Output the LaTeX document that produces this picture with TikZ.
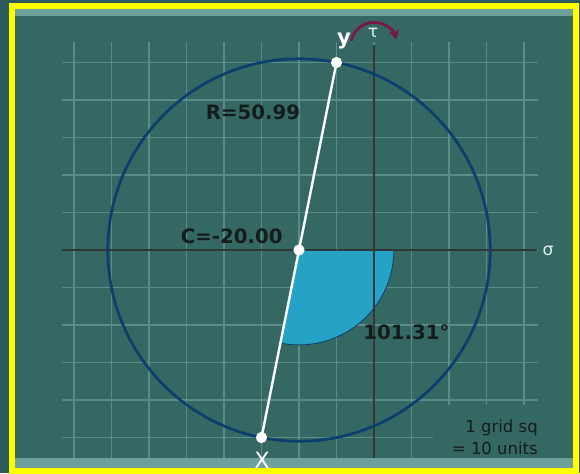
\documentclass[tikz,border=0pt]{standalone}
\usepackage{fontspec}
\setmainfont{DejaVu Sans}
\setsansfont{DejaVu Sans}
\usepackage{tikz}
\usetikzlibrary{arrows.meta,positioning,calc}
\definecolor{outerc}{RGB}{44,92,90}
\definecolor{board}{RGB}{54,104,99}
\definecolor{gridc}{RGB}{90,141,136}
\definecolor{bandc}{RGB}{110,160,156}
\definecolor{frame}{RGB}{255,255,0}
\definecolor{axisc}{RGB}{48,56,56}
\definecolor{circc}{RGB}{12,62,110}
\definecolor{wedgec}{RGB}{38,162,198}
\definecolor{inkc}{RGB}{20,28,28}
\definecolor{spinc}{RGB}{120,24,70}
\definecolor{symc}{RGB}{220,236,236}

\begin{document}
\begin{tikzpicture}[x=1cm,y=1cm,font=\sffamily,
    gridline/.style={gridc,line width=0.9pt},
    axisline/.style={axisc,line width=1.8pt},
    valuelbl/.style={text=inkc,font=\sffamily\bfseries\fontsize{15}{18}\selectfont,inner sep=0pt},
    axislbl/.style={text=symc,font=\sffamily\fontsize{13}{15}\selectfont,inner sep=0pt}]
  \useasboundingbox (-9.973,-5.947) rectangle (5.493,6.667);
  % ---- board ----
  \fill[outerc] (-9.973,-5.947) rectangle (5.493,6.667);
  \fill[board] (-9.653,-5.893) rectangle (5.387,6.499);
  % ---- grid, 1 square = 10 units ----
  \foreach \gx in {-8,...,4}{
      \draw[gridline] (\gx,-5.547) -- (\gx,5.547);}
  \foreach \gy in {-5,...,5}{
      \draw[gridline] (-8.32,\gy) -- (4.373,\gy);}
  \fill[board] (1.573,-4.133) rectangle (4.99,-5.547);
  \node[anchor=east,align=right,text=inkc,font=\sffamily\fontsize{12.5}{16.5}\selectfont,inner sep=0pt]
      (scale) at (4.373,-4.99) {1 grid sq\\= 10 units};
  % ---- stress points ----
  \coordinate (C) at (-2,0);
  \coordinate (Y) at (-1,5);
  \coordinate (X) at (-3,-5);
  % ---- angle wedge ----
  \filldraw[fill=wedgec,draw=circc,line width=0.6pt] (C) -- ++(0:2.53)
      arc[start angle=0,end angle=-101.31,radius=2.53] -- cycle;
  % ---- axes ----
  \draw[axisline] (-8.32,0) -- (4.347,0);
  \draw[axisline] (0,-5.547) -- (0,5.467);
  \draw[spinc,line width=2.2pt,-{Stealth[length=2.6mm,width=2.8mm]}]
      (-0.606,5.579) arc[start angle=168,end angle=15,radius=0.62];
  \node[axislbl] (sig) at (4.64,-0.03) {σ};
  \node[axislbl] (tau) at (-0.027,5.8) {τ};
  % ---- Mohr circle ----
  \draw[circc,line width=2.1pt] (C) circle (5.099);
  \draw[white,line width=1.8pt] (Y) -- (X);
  \fill[white] (Y) circle (0.15);
  \fill[white] (C) circle (0.15);
  \fill[white] (X) circle (0.15);
  % ---- values ----
  \node[valuelbl] (rad) at (-3.227,3.68) {R=50.99};
  \node[valuelbl,anchor=east] (cen) at (-2.43,0.355) {C=-20.00};
  \node[valuelbl,anchor=west] (ang) at (-0.293,-2.187) {101.31°};
  \node[valuelbl,text=white,font=\sffamily\bfseries\fontsize{16}{18}\selectfont] (ylbl) at (-0.8,5.56) {y};
  % ---- bands + frame ----
  \fill[bandc] (-9.573,6.24) rectangle (5.387,6.42);
  \fill[bandc] (-9.573,-5.547) rectangle (5.387,-5.813);
  \node[text=white,font=\sffamily\fontsize{17}{19}\selectfont,inner sep=0pt] (xlbl) at (-2.987,-5.6) {X};
  \draw[frame,line width=4.5pt] (-9.653,-5.893) rectangle (5.387,6.499);
\end{tikzpicture}
\end{document}
